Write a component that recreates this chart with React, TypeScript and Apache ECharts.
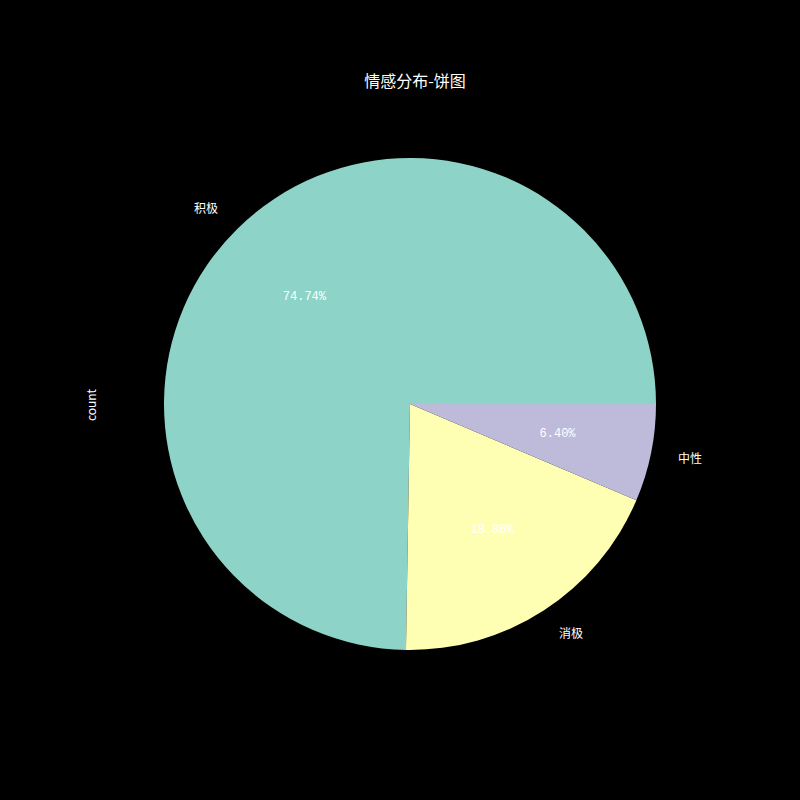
import React, { useEffect, useRef } from "react";
import * as echarts from "echarts";

const categories = ["积极", "消极", "中性"];
const values = [74.74, 18.86, 6.4];
const colors = ["#8dd3c7", "#ffffb3", "#bebada"];
const titleText = "情感分布-饼图";
const yLabel = "count";

const CX = 410;
const CY = 404;
const R = 246;
const FONT = "'Noto Sans CJK SC', 'DejaVu Sans', sans-serif";
const MONO = "'Liberation Mono', 'DejaVu Sans Mono', monospace";

export default function App() {
  const ref = useRef<HTMLDivElement>(null);
  useEffect(() => {
    if (!ref.current) return;
    const chart = echarts.init(ref.current, null, { renderer: "svg" });
    const total = values.reduce((a, b) => a + b, 0);
    let acc = 0;
    const offsets = categories.map((c, i) => {
      const mid = ((acc + values[i] / 2) / total) * 2 * Math.PI;
      acc += values[i];
      const half = (c.length * 12) / 2;
      return [Math.cos(mid) >= 0 ? half : -half, -1];
    });
    chart.setOption({
      animation: false,
      backgroundColor: "#000000",
      title: {
        text: titleText,
        left: CX,
        textAlign: "center",
        top: 67,
        textStyle: { color: "#ffffff", fontSize: 16, fontWeight: "normal", fontFamily: FONT },
      },
      graphic: [
        {
          type: "text",
          x: 90,
          y: 405,
          rotation: Math.PI / 2,
          style: {
            text: yLabel,
            fill: "#ffffff",
            font: `12px ${FONT}`,
            textAlign: "center",
            textVerticalAlign: "middle",
          },
        },
      ],
      series: [
        {
          type: "pie",
          center: [CX, CY],
          radius: [0, R],
          startAngle: 0,
          clockwise: false,
          minAngle: 0,
          avoidLabelOverlap: false,
          percentPrecision: 2,
          itemStyle: { borderWidth: 0 },
          label: { show: false },
          labelLine: { show: false },
          emphasis: { disabled: true },
          data: categories.map((c, i) => ({ name: c, value: values[i], itemStyle: { color: colors[i] } })),
        },
        {
          type: "pie",
          center: [CX, CY],
          radius: [0, R * 1.2],
          startAngle: 0,
          clockwise: false,
          silent: true,
          avoidLabelOverlap: false,
          percentPrecision: 2,
          itemStyle: { color: "rgba(0,0,0,0)", borderWidth: 0 },
          label: {
            show: true,
            position: "inside",
            formatter: (p: any) => p.percent.toFixed(2) + "%",
            color: "#ffffff",
            fontSize: 12,
            fontWeight: "normal",
            fontFamily: MONO,
            rotate: 0,
          },
          labelLine: { show: false },
          emphasis: { disabled: true },
          data: categories.map((c, i) => ({ name: c, value: values[i] })),
        },
        {
          type: "pie",
          center: [CX, CY],
          radius: [0, R * 2.2],
          startAngle: 0,
          clockwise: false,
          silent: true,
          avoidLabelOverlap: false,
          itemStyle: { color: "rgba(0,0,0,0)", borderWidth: 0 },
          label: {
            show: true,
            position: "inside",
            formatter: "{b}",
            color: "#ffffff",
            fontSize: 12,
            fontWeight: "normal",
            fontFamily: FONT,
            rotate: 0,
          },
          labelLine: { show: false },
          emphasis: { disabled: true },
          data: categories.map((c, i) => ({
            name: c,
            value: values[i],
            label: { offset: offsets[i] },
          })),
        },
      ],
    });
    return () => chart.dispose();
  }, []);
  return (
    <div
      ref={ref}
      style={{ position: "fixed", left: 0, top: 0, width: 800, height: 800, background: "#000" }}
    />
  );
}
